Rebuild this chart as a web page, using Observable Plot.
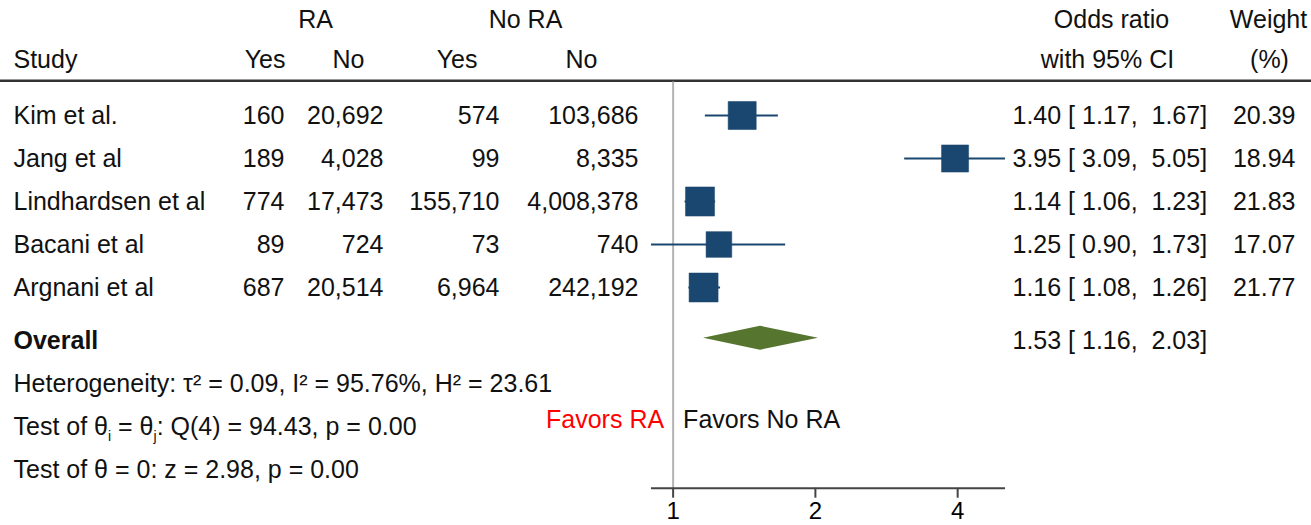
<!DOCTYPE html>
<html>
<head>
<meta charset="utf-8">
<script src="https://cdn.jsdelivr.net/npm/d3@7"></script>
<script src="https://cdn.jsdelivr.net/npm/@observablehq/plot@0.6"></script>
<style>
  html, body { margin: 0; padding: 0; background: #fff; }
  #chart svg { display: block; }
</style>
</head>
<body>
<div id="chart"></div>
<script>
// ---- data ----
const studies = ["Kim et al.", "Jang et al", "Lindhardsen et al", "Bacani et al", "Argnani et al"];
const raYes = [160, 189, 774, 89, 687];
const raNo = [20692, 4028, 17473, 724, 20514];
const noRaYes = [574, 99, 155710, 73, 6964];
const noRaNo = [103686, 8335, 4008378, 740, 242192];
const oddsRatio = [1.40, 3.95, 1.14, 1.25, 1.16];
const ciLow = [1.17, 3.09, 1.06, 0.90, 1.08];
const ciHigh = [1.67, 5.05, 1.23, 1.73, 1.26];
const weights = [20.39, 18.94, 21.83, 17.07, 21.77];
const overallLabel = "Overall";
const overallOR = 1.53, overallLow = 1.16, overallHigh = 2.03;
const statLines = [
  "Heterogeneity: \u03c4\u00b2 = 0.09, I\u00b2 = 95.76%, H\u00b2 = 23.61",
  "Test of \u03b8_i = \u03b8_j: Q(4) = 94.43, p = 0.00",
  "Test of \u03b8 = 0: z = 2.98, p = 0.00"
];
const tickValues = [1, 2, 4];
const axisDomain = [0.90, 5.05];
const favorLeft = "Favors RA";
const favorRight = "Favors No RA";

// ---- layout rows (row index units) ----
const studyRows = studies.map((_, i) => i + 1);
const overallRow = 6.25;
const diamondRow = overallRow - 0.07;
const statRows = statLines.map((_, i) => 7.25 + i);
const headTop = -1.21, headBottom = -0.28, headLine = 0.19;
const favorRow = 8.09, axisRow = 9.67, tickEnd = 9.9, tickLabelRow = 10.21;

const fmtN = d3.format(",");
const f2 = d3.format(".2f");
const pad5 = v => { const s = f2(v); return (s.length < 5 ? "\u00a0" : "") + s; };
const orText = (o, l, h) => `${f2(o)} [${pad5(l)},\u00a0${pad5(h)}]`;

const rows = studies.map((s, i) => ({
  study: s, row: studyRows[i],
  raYes: fmtN(raYes[i]), raNo: fmtN(raNo[i]),
  noRaYes: fmtN(noRaYes[i]), noRaNo: fmtN(noRaNo[i]),
  or: oddsRatio[i], lo: ciLow[i], hi: ciHigh[i], w: weights[i],
  orLabel: orText(oddsRatio[i], ciLow[i], ciHigh[i]),
  wLabel: f2(weights[i])
}));
const statData = statLines.map((t, i) => ({text: t, row: statRows[i]}));
const dh = 0.28;
const diamond = [
  {y: diamondRow - dh, x1: overallOR, x2: overallOR},
  {y: diamondRow, x1: overallLow, x2: overallHigh},
  {y: diamondRow + dh, x1: overallOR, x2: overallOR}
];

const FS = 25;
const navy = "#1a476f";
const green = "#56762f";
const colText = (data, field, dx, anchor, extra = {}) =>
  Plot.text(data, {y: "row", text: field, frameAnchor: "left", dx, textAnchor: anchor, fontSize: FS, fill: "#111", ...extra});

const headers1 = [
  {t: "RA", dx: 315, a: "middle"}, {t: "No RA", dx: 525, a: "middle"},
  {t: "Odds ratio", dx: 1111, a: "middle"}, {t: "Weight", dx: 1268, a: "middle"}
];
const headers2 = [
  {t: "Study", dx: 13, a: "start"}, {t: "Yes", dx: 285, a: "end"}, {t: "No", dx: 348, a: "middle"},
  {t: "Yes", dx: 477, a: "end"}, {t: "No", dx: 581, a: "middle"},
  {t: "with 95% CI", dx: 1107, a: "middle"}, {t: "(%)", dx: 1269, a: "middle"}
];

const chart = Plot.plot({
  width: 1311, height: 525,
  marginLeft: 0, marginRight: 0, marginTop: 0, marginBottom: 0,
  style: {fontFamily: "'Liberation Sans', Arial, Helvetica, sans-serif", fontSize: FS + "px", background: "#fff"},
  x: {type: "log", domain: axisDomain, range: [651, 1005], axis: null},
  y: {domain: [0, 10], range: [72, 502], axis: null},
  r: {range: [0, 16.4]},
  marks: [
    // headers
    ...headers1.map(h => Plot.text([h.t], {y: [headTop], text: d => d, frameAnchor: "left", dx: h.dx, textAnchor: h.a, fontSize: FS, fill: "#111"})),
    ...headers2.map(h => Plot.text([h.t], {y: [headBottom], text: d => d, frameAnchor: "left", dx: h.dx, textAnchor: h.a, fontSize: FS, fill: "#111"})),
    Plot.ruleY([headLine], {stroke: "#333", strokeWidth: 2.5}),
    // reference line at OR = 1
    Plot.ruleX([1], {y1: headLine + 0.03, y2: axisRow, stroke: "#b4b4b4", strokeWidth: 2}),
    // table columns
    colText(rows, "study", 13, "start"),
    colText(rows, "raYes", 284, "end"),
    colText(rows, "raNo", 383, "end"),
    colText(rows, "noRaYes", 499, "end"),
    colText(rows, "noRaNo", 638, "end"),
    colText(rows, "orLabel", 1012, "start"),
    colText(rows, "wLabel", 1295, "end"),
    // CIs and squares
    Plot.ruleY(rows, {y: "row", x1: "lo", x2: "hi", stroke: navy, strokeWidth: 2}),
    Plot.dot(rows, {x: "or", y: "row", r: "w", symbol: "square", fill: navy, stroke: navy, strokeWidth: 0.5}),
    // overall
    Plot.text([overallLabel], {y: [overallRow], text: d => d, frameAnchor: "left", dx: 13, textAnchor: "start", fontSize: FS, fontWeight: "bold", fill: "#111"}),
    Plot.areaX(diamond, {y: "y", x1: "x1", x2: "x2", fill: green}),
    Plot.text([orText(overallOR, overallLow, overallHigh)], {y: [overallRow], text: d => d, frameAnchor: "left", dx: 1012, textAnchor: "start", fontSize: FS, fill: "#111"}),
    // stats
    colText(statData, "text", 13, "start"),
    // favors
    Plot.text([favorLeft], {x: [1], y: [favorRow], text: d => d, dx: -9, textAnchor: "end", fontSize: FS, fill: "#ff0000"}),
    Plot.text([favorRight], {x: [1], y: [favorRow], text: d => d, dx: 10, textAnchor: "start", fontSize: FS, fill: "#111"}),
    // x axis
    Plot.ruleY([axisRow], {x1: axisDomain[0], x2: axisDomain[1], stroke: "#444", strokeWidth: 2}),
    Plot.ruleX(tickValues, {y1: axisRow, y2: tickEnd, stroke: "#444", strokeWidth: 2}),
    Plot.text(tickValues, {x: d => d, y: tickValues.map(() => tickLabelRow), text: d => String(d), fontSize: 24, fill: "#000"})
  ]
});

// subscripts for theta_i / theta_j
const ns = "http://www.w3.org/2000/svg";
chart.querySelectorAll("text").forEach(t => {
  const s = t.textContent;
  if (s.includes("_")) {
    const parts = s.split(/(_[a-z])/);
    t.textContent = "";
    let shifted = false;
    parts.forEach(p => {
      if (!p) return;
      const ts = document.createElementNS(ns, "tspan");
      if (p.startsWith("_")) {
        ts.textContent = p.slice(1);
        ts.setAttribute("font-size", "14");
        ts.setAttribute("dy", "6");
        shifted = true;
      } else {
        ts.textContent = p;
        if (shifted) { ts.setAttribute("dy", "-6"); shifted = false; }
      }
      t.appendChild(ts);
    });
  }
});

document.getElementById("chart").appendChild(chart);
</script>
</body>
</html>
